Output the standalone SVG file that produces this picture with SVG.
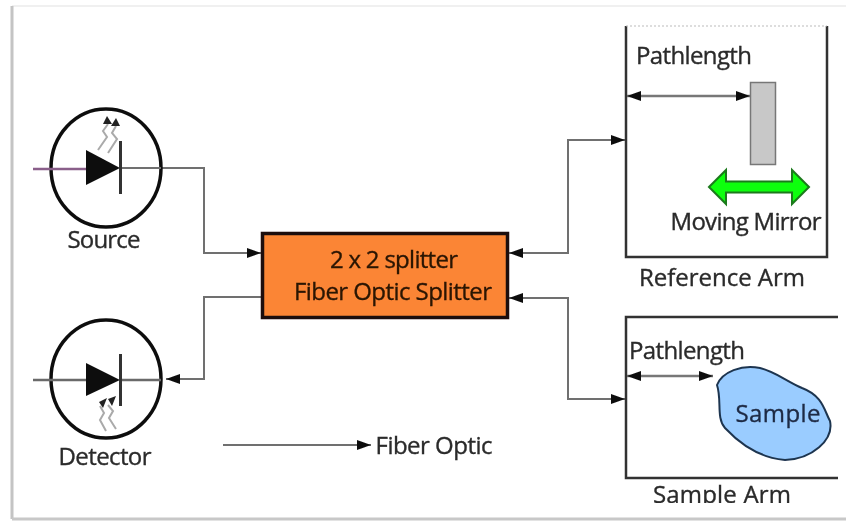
<svg xmlns="http://www.w3.org/2000/svg" width="846" height="521" viewBox="0 0 846 521">
<defs>
<style>
text{font-family:"Open Sans","Noto Sans","Liberation Sans",sans-serif;font-size:24px;fill:#2a2a2a;stroke:#2a2a2a;stroke-width:.35}
.wire{fill:none;stroke:#707070;stroke-width:2}
.wire2{fill:none;stroke:#6a6a6a;stroke-width:2.5}
.ring{fill:#fff;stroke:#111;stroke-width:3.5}
.bar{stroke:#333;stroke-width:3}
.ray{fill:none;stroke:#aaa;stroke-width:2}
.arm{fill:none;stroke:#333;stroke-width:2.5}
</style>
<marker id="ah" markerUnits="userSpaceOnUse" markerWidth="16" markerHeight="12" refX="14" refY="6" orient="auto-start-reverse"><path d="M0 1L14 6L0 11Z" fill="#111"/></marker>
<filter id="soft" x="-2%" y="-2%" width="104%" height="104%"><feGaussianBlur stdDeviation="0.7"/></filter>
<clipPath id="sa"><rect x="600" y="470" width="240" height="33"/></clipPath>
</defs>
<rect width="846" height="521" fill="#fff"/>
<g filter="url(#soft)">
<path d="M12 6H846" fill="none" stroke="#f0f0f0" stroke-width="2"/>
<path d="M12 6V519" fill="none" stroke="#c4c4c4" stroke-width="3"/>
<path d="M12 519H846" fill="none" stroke="#c8c8c8" stroke-width="3"/>
<g id="connectors">
<path class="wire" d="M161 168H204V253H261" marker-end="url(#ah)"/>
<path class="wire" d="M261 297H204V379H166" marker-end="url(#ah)"/>
<path class="wire" d="M509 253H568V140H625" marker-start="url(#ah)" marker-end="url(#ah)"/>
<path class="wire" d="M509 298H568V399H625" marker-start="url(#ah)" marker-end="url(#ah)"/>
<path class="wire" d="M223 445H371" marker-end="url(#ah)"/>
</g>
<g id="source">
<ellipse class="ring" cx="106" cy="168" rx="55" ry="59"/>
<path d="M33 169H86" stroke="#8a5f8a" stroke-width="2.500"/>
<path d="M120 168H161" class="wire"/>
<path d="M86 150L120 168L86 185Z" fill="#111"/>
<path class="bar" d="M120.500 141V194"/>
<path class="ray" d="M98 150L107 137L103 131L108 124M108 153L117 139L112 133L116 126"/>
<path d="M103 124L107 116L112 124ZM111 126L116 118L120 126Z" fill="#222"/>
<text x="104" y="248" text-anchor="middle" textLength="73">Source</text>
</g>
<g id="detector">
<ellipse class="ring" cx="106" cy="379" rx="55" ry="59"/>
<path d="M33 380H86M120 380H161" class="wire2"/>
<path d="M86 363L120 380L86 396Z" fill="#111"/>
<path class="bar" d="M120.500 354V406"/>
<path class="ray" d="M106 431L100 420L104 413L100 406M116 429L109 418L113 411L108 405"/>
<path d="M99 402L107 398L103 408ZM108 399L116 396L112 406Z" fill="#222"/>
<text x="105" y="465" text-anchor="middle" textLength="93">Detector</text>
</g>
<g id="splitter">
<rect x="262.500" y="233.500" width="245" height="84" fill="#fb8535" stroke="#1a1008" stroke-width="3.500"/>
<text x="394" y="268" text-anchor="middle" textLength="128" style="fill:#2a1505;stroke:#2a1505">2 x 2 splitter</text>
<text x="393" y="300" text-anchor="middle" textLength="198" style="fill:#2a1505;stroke:#2a1505">Fiber Optic Splitter</text>
</g>
<g id="reference-arm">
<path class="arm" d="M626 26V257H827V26"/>
<path d="M626 26H827" stroke="#bbb" stroke-width="1" stroke-dasharray="2 2"/>
<text x="694" y="64" text-anchor="middle" textLength="116">Pathlength</text>
<path d="M627 96H750" stroke="#777" stroke-width="2.500" marker-start="url(#ah)" marker-end="url(#ah)"/>
<rect x="750.500" y="82.500" width="25" height="82" fill="#c8c8c8" stroke="#777" stroke-width="1.500"/>
<path d="M709 187L726 170V181.500H792V170L809 187L792 204V192.500H726V204Z" fill="#0dff0d" stroke="#1c7a1c" stroke-width="2"/>
<text x="746" y="230" text-anchor="middle" textLength="151">Moving Mirror</text>
<text x="722" y="286" text-anchor="middle" textLength="166">Reference Arm</text>
</g>
<g id="sample-arm">
<path class="arm" d="M838 317H626V478H838"/>
<text x="687" y="359" text-anchor="middle" textLength="116">Pathlength</text>
<path d="M627 376H713" stroke="#777" stroke-width="2.500" marker-start="url(#ah)" marker-end="url(#ah)"/>
<path id="sample-blob" d="M717 385C722 372 742 364 760 368C776 372 786 381 802 388C823 396 824 410 830 421C834 440 812 459 785 460C760 458 740 444 725 428C716 418 722 400 717 385Z" fill="#9accff" stroke="#1f3550" stroke-width="2"/>
<text x="778" y="422" text-anchor="middle" textLength="85" style="fill:#1f2a44;stroke:#1f2a44">Sample</text>
<text x="722" y="503" text-anchor="middle" textLength="138" clip-path="url(#sa)">Sample Arm</text>
</g>
<g id="legend">
<text x="434" y="454" text-anchor="middle" textLength="117">Fiber Optic</text>
</g>
</g>
</svg>
